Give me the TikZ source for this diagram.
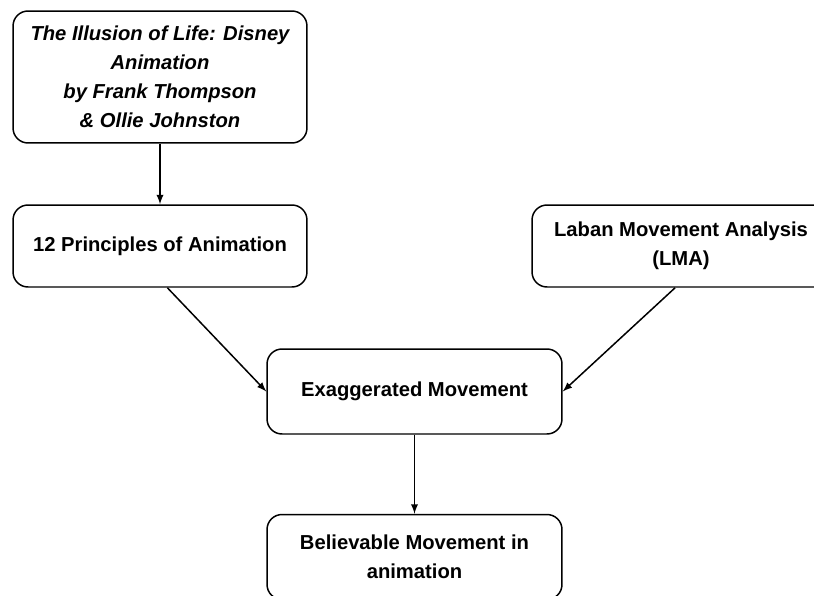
\documentclass[tikz,border=0pt]{standalone}
\usepackage{fontspec}
\setmainfont{Liberation Sans}
\usetikzlibrary{arrows,calc}
\tikzset{>=latex}
\tikzset{box/.style={draw,line width=0.85pt,rounded corners=0.3cm,align=center,
    font=\fontsize{11.5}{16.5}\selectfont\bfseries,inner sep=0pt}}

\begin{document}
\begin{tikzpicture}[x=0.02cm,y=-0.02cm]
  \useasboundingbox (0,0) rectangle (814,595);
  \clip (0,0) rectangle (814,595);

  % Boxes
  \node[box,minimum width=5.88cm,minimum height=2.64cm] (book) at (160,77)
    {\itshape The Illusion of Life: Disney\\\itshape Animation\\\itshape by Frank Thompson\\\itshape \& Ollie Johnston};
  \node[box,minimum width=5.88cm,minimum height=1.64cm] (principles) at (160,246) {12 Principles of Animation};
  \node[box,minimum width=5.96cm,minimum height=1.64cm] (laban) at (681,246) {Laban Movement Analysis\\(LMA)};
  \node[box,minimum width=5.9cm,minimum height=1.7cm] (exag) at (414.5,391.5) {Exaggerated Movement};
  \node[box,minimum width=5.9cm,minimum height=1.7cm] (believe) at (414.5,557) {Believable Movement in\\animation};

  % Arrows
  \draw[->,line width=0.85pt] (book.south) -- (principles.north);
  \draw[->,line width=0.85pt] (principles.-80) -- (exag.west);
  \draw[->,line width=0.85pt] (laban.-98) -- (exag.east);
  \draw[->,line width=0.85pt] (exag.south) -- (believe.north);
\end{tikzpicture}
\end{document}
